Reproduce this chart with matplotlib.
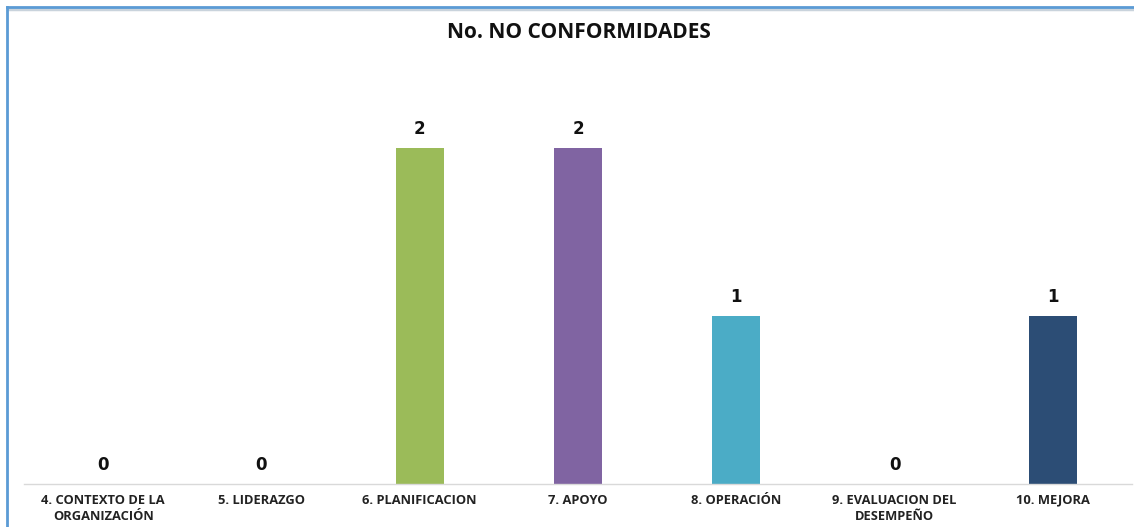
import matplotlib
matplotlib.use("Agg")
import matplotlib.pyplot as plt
from matplotlib.lines import Line2D

categories = ["4. CONTEXTO DE LA\nORGANIZACIÓN", "5. LIDERAZGO", "6. PLANIFICACION",
              "7. APOYO", "8. OPERACIÓN", "9. EVALUACION DEL\nDESEMPEÑO", "10. MEJORA"]
values = [0, 0, 2, 2, 1, 0, 1]
colors = ["#4F81BD", "#C0504D", "#9BBB59", "#8064A2", "#4BACC6", "#F79646", "#2C4D75"]
title = "No. NO CONFORMIDADES"

W, H = 1134, 527
fig = plt.figure(figsize=(W / 100, H / 100), dpi=100)
fig.patch.set_facecolor("white")

ax = fig.add_axes([24 / W, 43 / H, (1132 - 24) / W, (484 - 60) / H])
x = list(range(len(categories)))
ax.bar(x, values, width=0.305, color=colors)
ax.set_xlim(-0.5, len(categories) - 0.5)
ax.set_ylim(0, (484 - 60) / 168)

for xi, v in zip(x, values):
    ax.annotate(f"{v}", (xi, v), xytext=(0, 7), textcoords="offset points",
                ha="center", va="bottom", fontsize=12, fontweight="bold",
                family="DejaVu Sans", color="#111111")

ax.set_xticks(x)
ax.set_xticklabels(categories, fontsize=9.3, fontweight="bold", family="Open Sans",
                   color="#222222", linespacing=1.35)
ax.tick_params(axis="x", length=0, pad=7)
ax.set_yticks([])
for s in ["left", "right", "top"]:
    ax.spines[s].set_visible(False)
ax.spines["bottom"].set_color("#D9D9D9")
ax.spines["bottom"].set_linewidth(1.0)

fig.text(579 / W, 1 - 32 / H, title, ha="center", va="center", fontsize=15,
         fontweight="bold", family="Open Sans", color="#111111")

# frame lines (blue with subtle shadow)
fig.add_artist(Line2D([8 / W, 1], [1 - 9 / H, 1 - 9 / H], transform=fig.transFigure,
                      color="#C9D3DC", lw=2.5))
fig.add_artist(Line2D([7 / W, 1], [1 - 7 / H, 1 - 7 / H], transform=fig.transFigure,
                      color="#5B9BD5", lw=2))
fig.add_artist(Line2D([7 / W, 7 / W], [0, 1 - 7 / H], transform=fig.transFigure,
                      color="#5B9BD5", lw=2))

fig.savefig("out.png", dpi=100, facecolor="white")
